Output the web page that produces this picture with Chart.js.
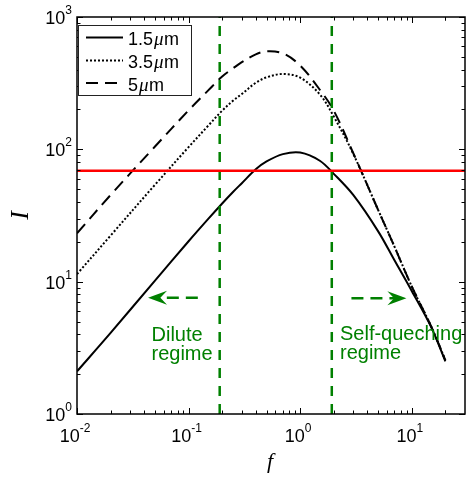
<!DOCTYPE html>
<html>
<head>
<meta charset="utf-8">
<script src="https://cdn.jsdelivr.net/npm/chart.js@4.4.0/dist/chart.umd.min.js"></script>
<style>
  html, body { margin: 0; padding: 0; background: #fff; }
</style>
</head>
<body>
<canvas id="intensityChart" width="468" height="477"></canvas>
<script>
// concentration f and intensity I for the three sizes
const fValues     = [0.01, 0.02, 0.05, 0.1, 0.15, 0.2, 0.25, 0.3, 0.4, 0.5, 0.7, 1, 1.5, 2, 3, 5, 7, 10, 15, 20];
const intensity15 = [2.1, 4.1, 10.2, 20.2, 29.8, 39, 47.6, 55.5, 70.7, 81, 92, 94.6, 82, 65.3, 45, 24, 14.5, 8.5, 4.5, 2.5];
const intensity35 = [11.4, 22.3, 54, 104, 151, 196, 233, 262, 318, 350, 371, 348, 260, 177, 92, 34.8, 18.4, 9.2, 4.55, 2.55];
const intensity50 = [23.2, 45.2, 105, 197, 279, 355, 409, 456, 522, 550, 531, 430, 282, 196, 93, 34.8, 18.4, 9.2, 4.55, 2.55];
const seriesLabels = ['1.5μm', '3.5μm', '5μm'];

const thresholdLevel = 69;
const regimeEdges = [0.19, 1.92];
const xDecades = [-2, -1, 0, 1];
const yDecades = [0, 1, 2, 3];

// regime arrows: [fFrom, fTip, I]
const diluteArrow = [0.121, 0.0433, 7.57];
const quenchArrow = [2.88, 8.95, 7.5];

const GREEN = '#008000';

const toPoints = ys => fValues.map((f, i) => ({ x: f, y: ys[i] }));

function curve(label, ys, dash) {
  return {
    label: label,
    data: toPoints(ys),
    borderColor: '#000',
    borderWidth: 2,
    borderDash: dash,
    pointRadius: 0,
    fill: false,
    tension: 0.35,
    order: 2
  };
}

function vline(f) {
  return {
    label: 'edge',
    data: [{ x: f, y: 1 }, { x: f, y: 1000 }],
    borderColor: GREEN,
    borderWidth: 2.5,
    borderDash: [10, 8],
    pointRadius: 0,
    order: 1
  };
}

function drawArrow(ctx, x0, x1, yy) {
  const dir = Math.sign(x1 - x0);
  const L = 19, W = 7;
  ctx.save();
  ctx.strokeStyle = GREEN;
  ctx.fillStyle = GREEN;
  ctx.lineWidth = 2.5;
  ctx.setLineDash([12, 7]);
  ctx.beginPath();
  ctx.moveTo(x0, yy);
  ctx.lineTo(x1 - dir * L * 0.6, yy);
  ctx.stroke();
  ctx.setLineDash([]);
  ctx.beginPath();
  ctx.moveTo(x1, yy);
  ctx.lineTo(x1 - dir * L, yy - W);
  ctx.lineTo(x1 - dir * L * 0.65, yy);
  ctx.lineTo(x1 - dir * L, yy + W);
  ctx.closePath();
  ctx.fill();
  ctx.restore();
}

// "10" with a raised exponent; align = 'right' or 'center'
function drawPower(ctx, exp, px, baseline, align) {
  ctx.font = '18px "Liberation Sans", Arial, sans-serif';
  const wBase = ctx.measureText('10').width;
  ctx.font = '12px "Liberation Sans", Arial, sans-serif';
  const wExp = ctx.measureText(exp).width;
  const total = wBase + wExp;
  const left = align === 'right' ? px - total : px - total / 2;
  ctx.textAlign = 'left';
  ctx.textBaseline = 'alphabetic';
  ctx.font = '18px "Liberation Sans", Arial, sans-serif';
  ctx.fillText('10', left, baseline);
  ctx.font = '12px "Liberation Sans", Arial, sans-serif';
  ctx.fillText(exp, left + wBase, baseline - 10);
}

// label such as 1.5μm with an italic mu
function drawUnitLabel(ctx, text, x0, baseline) {
  const parts = text.split('μ');
  ctx.textAlign = 'left';
  ctx.font = '18px "Liberation Sans", Arial, sans-serif';
  ctx.fillText(parts[0], x0, baseline);
  let x = x0 + ctx.measureText(parts[0]).width + 1;
  ctx.font = 'italic 19px "Liberation Serif", "Times New Roman", serif';
  ctx.fillText('μ', x, baseline);
  x += ctx.measureText('μ').width + 0.5;
  ctx.font = '18px "Liberation Sans", Arial, sans-serif';
  ctx.fillText(parts[1], x, baseline);
}

const axesFrame = {
  id: 'axesFrame',
  afterDatasetsDraw(chart) {
    const { ctx, chartArea: a, scales: { x, y } } = chart;
    ctx.save();

    // regime arrows and notes
    drawArrow(ctx, x.getPixelForValue(diluteArrow[0]), x.getPixelForValue(diluteArrow[1]), y.getPixelForValue(diluteArrow[2]));
    drawArrow(ctx, x.getPixelForValue(quenchArrow[0]), x.getPixelForValue(quenchArrow[1]), y.getPixelForValue(quenchArrow[2]));
    ctx.fillStyle = GREEN;
    ctx.font = '20px "Liberation Sans", Arial, sans-serif';
    ctx.textAlign = 'left';
    ctx.textBaseline = 'alphabetic';
    ctx.fillText('Dilute', 151.5, 340.5);
    ctx.fillText('regime', 151.5, 359.5);
    ctx.fillText('Self-queching', 340, 339.5);
    ctx.fillText('regime', 340, 358.5);

    // box
    ctx.strokeStyle = '#000';
    ctx.fillStyle = '#000';
    ctx.lineWidth = 1.5;
    ctx.strokeRect(a.left, a.top, a.right - a.left, a.bottom - a.top);

    // inward ticks on all four sides
    ctx.lineWidth = 1;
    ctx.beginPath();
    xDecades.forEach(d => {
      for (let k = 1; k <= 9; k++) {
        const v = k * Math.pow(10, d);
        if (v >= x.max) break;
        const px = Math.round(x.getPixelForValue(v)) + 0.5;
        const len = k === 1 ? 6 : 3.5;
        ctx.moveTo(px, a.bottom); ctx.lineTo(px, a.bottom - len);
        ctx.moveTo(px, a.top); ctx.lineTo(px, a.top + len);
      }
    });
    ctx.moveTo(Math.round(x.getPixelForValue(20)) + 0.5, a.bottom);
    ctx.lineTo(Math.round(x.getPixelForValue(20)) + 0.5, a.bottom - 3.5);
    ctx.moveTo(Math.round(x.getPixelForValue(20)) + 0.5, a.top);
    ctx.lineTo(Math.round(x.getPixelForValue(20)) + 0.5, a.top + 3.5);
    yDecades.forEach(d => {
      for (let k = 1; k <= 9; k++) {
        const v = k * Math.pow(10, d);
        if (v > y.max) break;
        const py = Math.round(y.getPixelForValue(v)) + 0.5;
        const len = k === 1 ? 6 : 3.5;
        ctx.moveTo(a.left, py); ctx.lineTo(a.left + len, py);
        ctx.moveTo(a.right, py); ctx.lineTo(a.right - len, py);
      }
    });
    ctx.stroke();

    // tick labels
    xDecades.forEach(d => {
      drawPower(ctx, String(d), x.getPixelForValue(Math.pow(10, d)) - 2, a.bottom + 28, 'center');
    });
    yDecades.forEach(d => {
      drawPower(ctx, String(d), a.left - 5, y.getPixelForValue(Math.pow(10, d)) + 7, 'right');
    });

    // axis titles
    ctx.font = 'italic 22px "Liberation Serif", "Times New Roman", serif';
    ctx.textAlign = 'center';
    ctx.fillText('f', (a.left + a.right) / 2 - 1, 468);
    ctx.save();
    ctx.translate(28, (a.top + a.bottom) / 2);
    ctx.rotate(-Math.PI / 2);
    ctx.font = 'italic 26px "Liberation Serif", "Times New Roman", serif';
    ctx.fillText('I', 0, 0);
    ctx.restore();

    // legend
    const bx = 78.5, by = 25.5, bw = 113, bh = 70;
    ctx.fillStyle = '#fff';
    ctx.fillRect(bx, by, bw, bh);
    ctx.strokeStyle = '#222';
    ctx.lineWidth = 1;
    ctx.strokeRect(bx, by, bw, bh);
    const rows = [37.5, 60.5, 83];
    chart.data.datasets.slice(0, 3).forEach((ds, i) => {
      ctx.strokeStyle = '#000';
      ctx.lineWidth = 2;
      ctx.setLineDash(ds.borderDash || []);
      ctx.beginPath();
      ctx.moveTo(86, rows[i]);
      ctx.lineTo(123, rows[i]);
      ctx.stroke();
      ctx.setLineDash([]);
      ctx.fillStyle = '#000';
      drawUnitLabel(ctx, ds.label, 128, rows[i] + 7.5);
    });

    ctx.restore();
  }
};

new Chart(document.getElementById('intensityChart'), {
  type: 'line',
  data: {
    datasets: [
      curve(seriesLabels[0], intensity15, []),
      curve(seriesLabels[1], intensity35, [2, 2]),
      curve(seriesLabels[2], intensity50, [12, 7]),
      {
        label: 'threshold',
        data: [{ x: 0.01, y: thresholdLevel }, { x: 30, y: thresholdLevel }],
        borderColor: '#ff0000',
        borderWidth: 2.5,
        pointRadius: 0,
        order: 0
      },
      vline(regimeEdges[0]),
      vline(regimeEdges[1])
    ]
  },
  options: {
    responsive: false,
    animation: false,
    devicePixelRatio: 1,
    layout: { padding: { left: 77, right: 3, top: 17, bottom: 63 } },
    scales: {
      x: { type: 'logarithmic', min: 0.01, max: 30, display: false },
      y: { type: 'logarithmic', min: 1, max: 1000, display: false }
    },
    plugins: {
      legend: { display: false },
      tooltip: { enabled: false }
    }
  },
  plugins: [axesFrame]
});
</script>
</body>
</html>
